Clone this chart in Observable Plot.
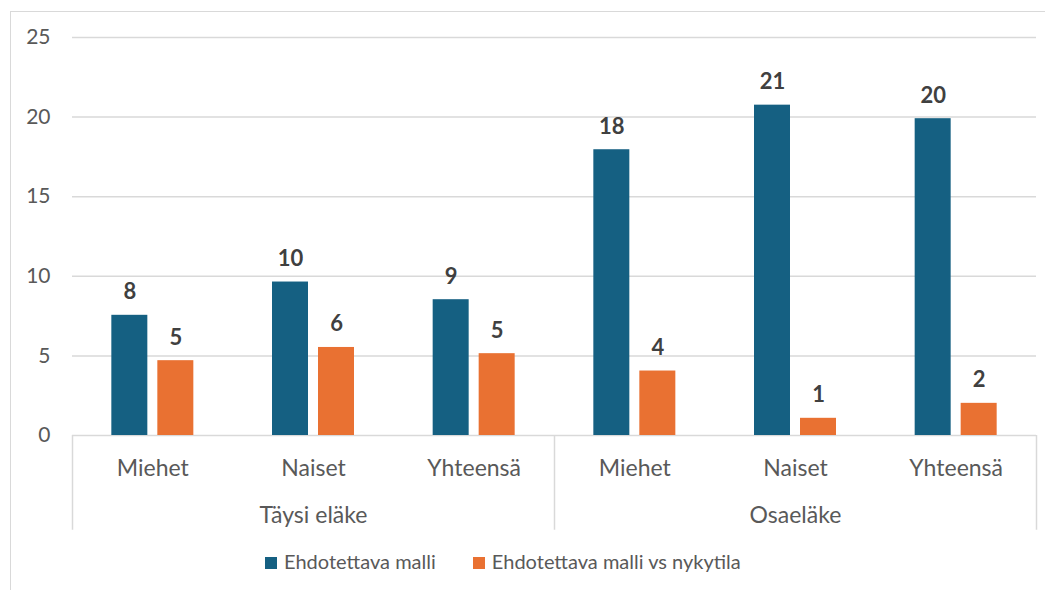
<!DOCTYPE html>
<html>
<head>
<meta charset="utf-8">
<script src="https://cdn.jsdelivr.net/npm/d3@7"></script>
<script src="https://cdn.jsdelivr.net/npm/@observablehq/plot@0.6"></script>
<style>
  html, body { margin: 0; padding: 0; background: #ffffff; }
  #wrap { position: relative; width: 1045px; height: 590px; overflow: hidden; font-family: Lato, "Open Sans", sans-serif; }
  #frame { position: absolute; left: 10px; top: 11px; width: 1200px; height: 800px;
           border-left: 1.5px solid #d9d9d9; border-top: 1.5px solid #d9d9d9; }
  #chart { position: absolute; left: 0; top: 0; }
  #legend { position: absolute; left: 265px; top: 549px; display: flex; align-items: center;
            font-size: 20px; color: #595959; white-space: nowrap; }
  .item { display: flex; align-items: center; margin-right: 37px; }
  .sw { width: 12px; height: 12px; margin-right: 7px; margin-top: 3px; }
</style>
</head>
<body>
<div id="wrap">
  <div id="frame"></div>
  <div id="chart"></div>
  <div id="legend"></div>
</div>
<script>
// ---- data ----
const groups = ["Täysi eläke", "Osaeläke"];
const subgroups = ["Miehet", "Naiset", "Yhteensä"];
const series = ["Ehdotettava malli", "Ehdotettava malli vs nykytila"];
const ehdotettavaMalli = [7.55, 9.64, 8.53, 17.95, 20.75, 19.9];
const vsNykytila = [4.70, 5.53, 5.14, 4.05, 1.08, 2.02];
const yTicks = [0, 5, 10, 15, 20, 25];
const colors = ["#156082", "#E97132"];

// ---- derived table ----
const cats = groups.flatMap((g, gi) => subgroups.map((s, si) => ({group: g, sub: s, i: gi * subgroups.length + si})));
const rows = cats.flatMap(c => [
  {i: c.i, s: 0, series: series[0], value: ehdotettavaMalli[c.i]},
  {i: c.i, s: 1, series: series[1], value: vsNykytila[c.i]}
]);
const groupRows = groups.map((g, gi) => ({group: g, center: gi * subgroups.length + subgroups.length / 2}));
const separators = d3.range(0, cats.length + 1, subgroups.length);

// ---- layout ----
const W = 1045, ML = 72, MR = 9;
const step = (W - ML - MR) / cats.length;
const barW = 36 / step, gap = 10 / step;
const bx1 = d => d.s === 0 ? d.i + 0.5 - gap / 2 - barW : d.i + 0.5 + gap / 2;
const bx2 = d => bx1(d) + barW;

const plot = Plot.plot({
  width: W,
  height: 540,
  marginLeft: ML,
  marginRight: MR,
  marginTop: 37,
  marginBottom: 105,
  style: {fontFamily: "Lato, 'Open Sans', sans-serif", fontSize: "21px", color: "#595959", background: "transparent", overflow: "visible"},
  x: {domain: [0, cats.length], axis: null},
  y: {domain: [0, 25], ticks: yTicks, tickSize: 0, tickPadding: 22, label: null, tickFormat: d => d},
  color: {domain: series, range: colors},
  marks: [
    Plot.ruleY(yTicks, {stroke: "#d9d9d9", strokeWidth: 1.5}),
    Plot.ruleX(separators, {y1: 0, y2: -5.95, stroke: "#d9d9d9", strokeWidth: 1.5}),
    Plot.rect(rows, {x1: bx1, x2: bx2, y1: 0, y2: "value", fill: "series"}),
    Plot.text(rows, {x: d => (bx1(d) + bx2(d)) / 2, y: "value", text: d => String(Math.round(d.value)),
      lineAnchor: "bottom", dy: -16, fontWeight: "bold", fill: "#404040", fontSize: 22}),
    Plot.text(cats, {x: d => d.i + 0.5, y: 0, text: "sub", lineAnchor: "bottom", dy: 40, fill: "#595959", fontSize: 23}),
    Plot.text(groupRows, {x: "center", y: 0, text: "group", lineAnchor: "bottom", dy: 87, fill: "#595959", fontSize: 23})
  ]
});
document.getElementById("chart").appendChild(plot);

// ---- legend ----
const legend = document.getElementById("legend");
series.forEach((s, k) => {
  const item = document.createElement("div");
  item.className = "item";
  const sw = document.createElement("div");
  sw.className = "sw";
  sw.style.background = colors[k];
  const label = document.createElement("span");
  label.textContent = s;
  item.appendChild(sw);
  item.appendChild(label);
  legend.appendChild(item);
});
</script>
</body>
</html>
